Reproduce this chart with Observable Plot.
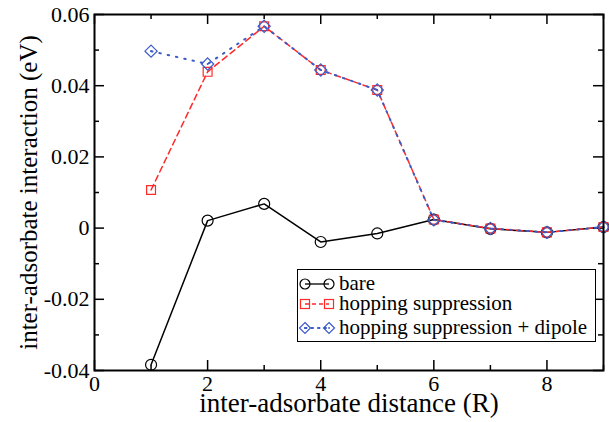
<!DOCTYPE html>
<html>
<head>
<meta charset="utf-8">
<script src="https://cdn.jsdelivr.net/npm/d3@7"></script>
<script src="https://cdn.jsdelivr.net/npm/@observablehq/plot@0.6"></script>
<style>
  html, body { margin: 0; padding: 0; background: #fff; }
  #wrap { position: relative; width: 609px; height: 422px; font-family: 'Liberation Serif', 'Times New Roman', serif; }
  #wrap svg text { font-family: 'Liberation Serif', 'Times New Roman', serif !important; }
  #legend { position: absolute; left: 297px; top: 269px; width: 299px; height: 73px; border: 1.5px solid #000; background: #fff; box-sizing: border-box; }
  #legend svg { position: absolute; left: 0; top: 0; }
</style>
</head>
<body>
<div id="wrap"></div>
<script>
const distance = [1, 2, 3, 4, 5, 6, 7, 8, 9];
const bare = [-0.0384, 0.0021, 0.0068, -0.0039, -0.0015, 0.0024, -0.0002, -0.0012, 0.0003];
const hopping = [0.0107, 0.0439, 0.0567, 0.0444, 0.0388, 0.0024, -0.0001, -0.0012, 0.0003];
const dipole = [0.0497, 0.0461, 0.0567, 0.0444, 0.0388, 0.0023, -0.0001, -0.0012, 0.0003];
const seriesNames = ["bare", "hopping suppression", "hopping suppression + dipole"];
const xMajor = [0, 2, 4, 6, 8];
const xMinor = [1, 3, 5, 7, 9];
const yMajor = [-0.04, -0.02, 0, 0.02, 0.04, 0.06];
const yMinor = [-0.03, -0.01, 0.01, 0.03, 0.05];

const W = 609, H = 422;
const mL = 94, mR = 6, mT = 14, mB = 52;
const pw = W - mL - mR, ph = H - mT - mB;

const rows = (ys) => distance.map((d, i) => ({x: d, y: ys[i]}));
const dBare = rows(bare), dHop = rows(hopping), dDip = rows(dipole);

const RED = "#ff2a2a", BLUE = "#3a5bc7";
const font = "'Liberation Serif', 'Times New Roman', serif";

const chart = Plot.plot({
  width: W, height: H,
  marginLeft: mL, marginRight: mR, marginTop: mT, marginBottom: mB,
  style: {fontFamily: font, fontSize: "20px", color: "#000", background: "#fff"},
  x: {domain: [0, 9]},
  y: {domain: [-0.04, 0.06]},
  marks: [
    Plot.ruleY(yMajor, {insetRight: pw - 10, stroke: "#000", strokeWidth: 1.5}),
    Plot.ruleY(yMajor, {insetLeft: pw - 10, stroke: "#000", strokeWidth: 1.5}),
    Plot.ruleY(yMinor, {insetRight: pw - 5, stroke: "#000", strokeWidth: 1.5}),
    Plot.ruleY(yMinor, {insetLeft: pw - 5, stroke: "#000", strokeWidth: 1.5}),
    Plot.ruleX(xMajor, {insetTop: ph - 10, stroke: "#000", strokeWidth: 1.5}),
    Plot.ruleX(xMajor, {insetBottom: ph - 10, stroke: "#000", strokeWidth: 1.5}),
    Plot.ruleX(xMinor, {insetTop: ph - 5, stroke: "#000", strokeWidth: 1.5}),
    Plot.ruleX(xMinor, {insetBottom: ph - 5, stroke: "#000", strokeWidth: 1.5}),
    Plot.axisX({ticks: xMajor, tickSize: 0, tickPadding: 5, tickFormat: d => String(d), fontSize: 22, fontFamily: font, label: null}),
    Plot.axisY({ticks: yMajor, tickSize: 0, tickPadding: 5, tickFormat: d => String(d), fontSize: 22, fontFamily: font, label: null}),
    Plot.line(dBare, {x: "x", y: "y", stroke: "#000", strokeWidth: 1.5}),
    Plot.line(dHop, {x: "x", y: "y", stroke: RED, strokeWidth: 1.5, strokeDasharray: "6,4"}),
    Plot.line(dDip, {x: "x", y: "y", stroke: BLUE, strokeWidth: 2, strokeDasharray: "1.5,7", strokeLinecap: "round"}),
    Plot.dot(dBare, {x: "x", y: "y", r: 5.5, stroke: "#000", strokeWidth: 1.2, fill: "none"}),
    Plot.dot(dHop, {x: "x", y: "y", symbol: "square", r: 5, stroke: RED, strokeWidth: 1.2, fill: "none"}),
    Plot.dot(dDip, {x: "x", y: "y", symbol: "diamond2", r: 5.5, stroke: BLUE, strokeWidth: 1.2, fill: "none"}),
    Plot.dot(dDip, {x: "x", y: "y", r: 0.9, fill: BLUE}),
    Plot.frame({stroke: "#000", strokeWidth: 2}),
    Plot.text(["inter-adsorbate distance (R)"], {frameAnchor: "bottom", dy: 41, fontSize: 27, fontFamily: font, text: d => d, lineAnchor: "bottom"}),
    Plot.text(["inter-adsorbate interaction (eV)"], {frameAnchor: "left", dx: -66, rotate: -90, textAnchor: "middle", fontSize: 25, fontFamily: font, text: d => d, lineAnchor: "middle"})
  ]
});

const wrap = document.getElementById("wrap");
wrap.appendChild(chart);

const legend = document.createElement("div");
legend.id = "legend";
const ns = "http://www.w3.org/2000/svg";
const lsvg = document.createElementNS(ns, "svg");
lsvg.setAttribute("width", 299);
lsvg.setAttribute("height", 73);
const styles = [
  {stroke: "#000", dash: null, sym: "circle"},
  {stroke: RED, dash: "4,3", sym: "square"},
  {stroke: BLUE, dash: "1.5,5", sym: "diamond"}
];
const rowY = [14, 34, 58];
seriesNames.forEach((name, i) => {
  const s = styles[i], cy = rowY[i];
  const g = document.createElementNS(ns, "g");
  const ln = document.createElementNS(ns, "line");
  ln.setAttribute("x1", 7); ln.setAttribute("x2", 31);
  ln.setAttribute("y1", cy); ln.setAttribute("y2", cy);
  ln.setAttribute("stroke", s.stroke); ln.setAttribute("stroke-width", i === 2 ? 2 : 1.3);
  if (s.dash) ln.setAttribute("stroke-dasharray", s.dash);
  if (i === 2) ln.setAttribute("stroke-linecap", "round");
  g.appendChild(ln);
  [7, 31].forEach(cx => {
    let el;
    if (s.sym === "circle") {
      el = document.createElementNS(ns, "circle");
      el.setAttribute("cx", cx); el.setAttribute("cy", cy); el.setAttribute("r", 5);
    } else if (s.sym === "square") {
      el = document.createElementNS(ns, "rect");
      el.setAttribute("x", cx - 4.5); el.setAttribute("y", cy - 4.5);
      el.setAttribute("width", 9); el.setAttribute("height", 9);
    } else {
      el = document.createElementNS(ns, "path");
      el.setAttribute("d", `M${cx},${cy - 5.5}L${cx + 5.5},${cy}L${cx},${cy + 5.5}L${cx - 5.5},${cy}Z`);
    }
    el.setAttribute("fill", "none");
    el.setAttribute("stroke", s.stroke);
    el.setAttribute("stroke-width", 1.2);
    g.appendChild(el);
    if (s.sym === "diamond") {
      const d = document.createElementNS(ns, "circle");
      d.setAttribute("cx", cx); d.setAttribute("cy", cy); d.setAttribute("r", 0.9);
      d.setAttribute("fill", s.stroke);
      g.appendChild(d);
    }
  });
  const t = document.createElementNS(ns, "text");
  t.setAttribute("x", 41); t.setAttribute("y", cy + 6);
  t.setAttribute("style", `font-family: ${font}; font-size: 21px;`);
  t.textContent = name;
  g.appendChild(t);
  lsvg.appendChild(g);
});
legend.appendChild(lsvg);
wrap.appendChild(legend);
</script>
</body>
</html>
